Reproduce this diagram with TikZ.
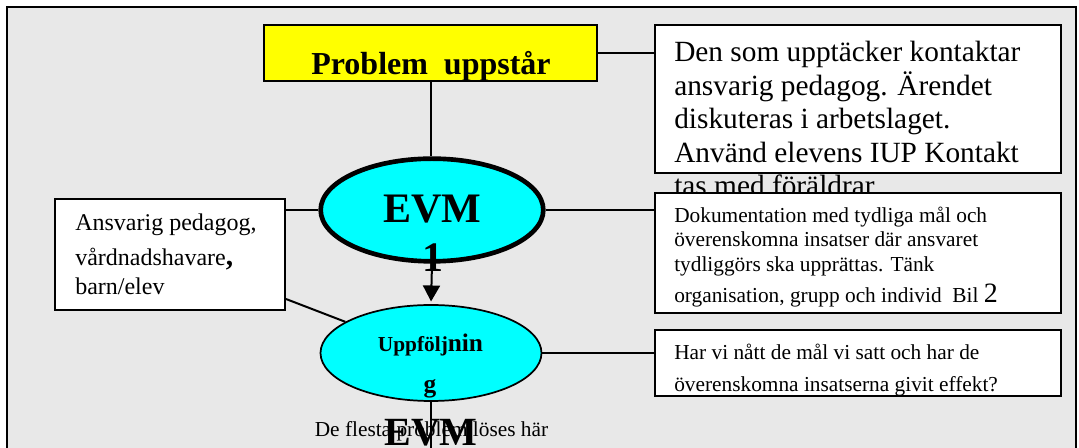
\documentclass[tikz,border=0pt]{standalone}
\usepackage{fontspec}
\setmainfont{Liberation Serif}
\usetikzlibrary{arrows.meta,shapes.geometric}
\definecolor{bggrey}{RGB}{232,232,232}
\definecolor{aqua}{RGB}{0,255,255}
\definecolor{lemon}{RGB}{255,255,0}

\begin{document}
\begin{tikzpicture}[x=0.75pt,y=0.75pt,yscale=-1,xscale=1,
  box/.style={draw=black,line width=1.5pt,fill=white,inner sep=0pt},
  oval/.style={ellipse,draw=black,fill=aqua,inner sep=0pt},
  txt/.style={anchor=base west,inner sep=0pt},
  link/.style={line width=1.5pt}]
\useasboundingbox (0,0) rectangle (1079,448);
\fill [white] (0,0) rectangle (1079,448);

%Shape: Frame
\draw [fill=bggrey, line width=1.5pt] (7,470) -- (7,7) -- (1076,7) -- (1076,470);

%Shape: Rectangle
\draw (430.5,53) node (yellow) [box, fill=lemon, minimum width=249.75pt, minimum height=42pt] {};
%Shape: Rectangle
\draw (858,99) node (info) [box, minimum width=304.5pt, minimum height=111pt] {};
% Text Node
\draw (674,62) node (info1) [txt] [font=\fontsize{22}{26}\selectfont] {Den som upptäcker kontaktar};
% Text Node
\draw (674,95.5) node (info2) [txt] [font=\fontsize{22}{26}\selectfont] {ansvarig pedagog. Ärendet};
% Text Node
\draw (674,129) node (info3) [txt] [font=\fontsize{22}{26}\selectfont] {diskuteras i arbetslaget.};
% Text Node
\draw (674,162.5) node (info4) [txt] [font=\fontsize{22}{26}\selectfont] {Använd elevens IUP Kontakt};
% Text Node
\draw (674,196) node (info5) [txt] [font=\fontsize{22}{26}\selectfont] {tas med föräldrar};

%Shape: Rectangle
\draw (858,253) node (doc) [box, minimum width=304.5pt, minimum height=90pt] {};
%Shape: Rectangle
\draw (858,363) node (eval) [box, minimum width=304.5pt, minimum height=49.5pt] {};
%Shape: Rectangle
\draw (170,254.5) node (parties) [box, minimum width=172.5pt, minimum height=83.25pt] {};

%Shape: Ellipse
\draw (432,210) node (evm) [oval, line width=3.5pt, minimum width=167pt, minimum height=77pt] {};
%Shape: Ellipse
\draw (431,353) node (uppf) [oval, line width=1.3pt, minimum width=165.75pt, minimum height=72pt] {};

%Straight Lines
\draw [link] (yellow.east) -- (yellow.east -| info.west);
%Straight Lines
\draw [link] (yellow.south) -- (yellow.south |- evm.north);
%Straight Lines
\draw [link] (evm.west -| parties.east) -- (evm.west);
%Straight Lines
\draw [link] (evm.east) -- (evm.east -| doc.west);
%Straight Lines
\draw [link] ([yshift=-9pt]parties.south east) -- (uppf.160);
%Straight Lines
\draw [link, -{Triangle[length=12pt,width=12.75pt]}, shorten >=2pt] (evm.south) -- (uppf.north);
%Straight Lines
\draw [link] (uppf.east) -- (uppf.east -| eval.west);
\coordinate (low) at (431,455);
%Straight Lines
\draw [link] (uppf.south) -- (low);

% Text Node
\draw (431,75) node (probtxt) [anchor=base, inner sep=0pt] [font=\fontsize{24}{28}\selectfont\bfseries] {Problem\ \ uppstår};
% Text Node
\draw (432,222.7) node (evmtxt) [anchor=base, inner sep=0pt] [font=\fontsize{31.5}{36}\selectfont\bfseries] {EVM};
% Text Node
\draw (433,272) node (evmnum) [anchor=base, inner sep=0pt] [font=\fontsize{31.5}{36}\selectfont\bfseries] {1};
% Text Node
\draw (430.5,352) node (uppftxt) [anchor=base, inner sep=0pt] [font=\bfseries] {{\fontsize{16}{19}\selectfont Uppfölj}{\fontsize{19}{22}\selectfont nin}};
% Text Node
\draw (430,393) node (uppfg) [anchor=base, inner sep=0pt] [font=\fontsize{19}{22}\selectfont\bfseries] {g};

% Text Node
\draw (75,230.7) node (part1) [txt] [font=\fontsize{18}{21}\selectfont] {Ansvarig pedagog,};
% Text Node
\draw (75,265.7) node (part2) [txt] [font=\fontsize{18}{21}\selectfont] {vårdnadshavare{\fontsize{22}{25}\selectfont\bfseries,}};
% Text Node
\draw (75,295) node (part3) [txt] [font=\fontsize{18}{21}\selectfont] {barn/elev};

% Text Node
\draw (674,222.7) node (doc1) [txt] [font=\fontsize{16}{19}\selectfont] {Dokumentation med tydliga mål och};
% Text Node
\draw (674,247) node (doc2) [txt] [font=\fontsize{16}{19}\selectfont] {överenskomna insatser där ansvaret};
% Text Node
\draw (674,271.7) node (doc3) [txt] [font=\fontsize{16}{19}\selectfont] {tydliggörs ska upprättas. Tänk};
% Text Node
\draw (674,303) node (doc4) [txt] [font=\fontsize{16}{19}\selectfont] {organisation, grupp och individ\ \ Bil {\fontsize{21}{24}\selectfont 2}};

% Text Node
\draw (674,360) node (eval1) [txt] [font=\fontsize{16}{19}\selectfont] {Har vi nått de mål vi satt och har de};
% Text Node
\draw (674,391.7) node (eval2) [txt] [font=\fontsize{16}{19}\selectfont] {överenskomna insatserna givit effekt?};

% Text Node
\draw (431,445.5) node (evmlow) [anchor=base, inner sep=0pt] [font=\fontsize{30}{34}\selectfont\bfseries] {EVM};
% Text Node
\draw (431.5,436.7) node (mosttxt) [anchor=base, inner sep=0pt] [font=\fontsize{16}{19}\selectfont] {De flesta problem löses här};

\end{tikzpicture}
\end{document}
